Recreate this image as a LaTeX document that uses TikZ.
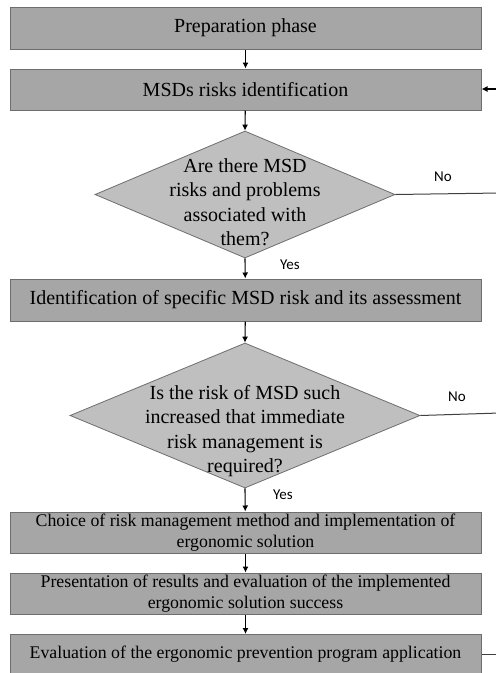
\documentclass[tikz,border=0pt]{standalone}
\usepackage{fontspec}
\setmainfont{Liberation Serif}
\newfontfamily\labelfont{Carlito}
\usetikzlibrary{shapes.geometric,arrows.meta}

\definecolor{boxfill}{HTML}{A6A6A6}
\definecolor{decfill}{HTML}{BFBFBF}
\definecolor{edgegray}{HTML}{6E6E6E}

\begin{document}
\begin{tikzpicture}[x=1pt,y=-1pt,
  stepbox/.style={draw=edgegray, fill=boxfill, line width=1pt,
    minimum width=471pt, minimum height=42pt, inner sep=0pt,
    align=center, font=\fontsize{20}{25}\selectfont},
  smallbox/.style={stepbox, font=\fontsize{17.8}{21.5}\selectfont},
  decision/.style={diamond, draw=edgegray, fill=decfill, line width=0.8pt,
    inner sep=0pt},
  dectext/.style={align=center, inner sep=0pt, font=\fontsize{20}{24.5}\selectfont},
  answer/.style={inner sep=0pt, font=\labelfont\fontsize{15}{18}\selectfont},
  flow/.style={draw=black, line width=1.1pt, -{Latex[length=6pt,width=6pt]}},
  exit/.style={draw=black!75, line width=1pt}
]
\useasboundingbox (0,0) rectangle (496,673);
\fill[white] (0,0) rectangle (496,673);

% main column of steps and decisions
\node[stepbox] (prep) at (245.5,28) {Preparation phase};
\node[stepbox, minimum height=41pt] (ident) at (245.5,89.5) {MSDs risks identification};
\node[decision, minimum width=300pt, minimum height=127pt] (q1) at (245,194.5) {};
\node[dectext] (q1t) at (245,202) {Are there MSD\\risks and problems\\associated with\\them?};
\node[stepbox] (assess) at (245.5,300) {Identification of specific MSD risk and its assessment};
\node[decision, minimum width=350pt, minimum height=145pt] (q2) at (245,415.5) {};
\node[dectext] (q2t) at (245,431) {Is the risk of MSD such\\increased that immediate\\risk management is\\required?};
\node[smallbox, minimum height=41pt] (choice) at (245.5,532.5) {Choice of risk management method and implementation of\\ergonomic solution};
\node[smallbox, minimum height=41pt] (present) at (245.5,593.5) {Presentation of results and evaluation of the implemented\\ergonomic solution success};
\node[smallbox, minimum height=44pt, anchor=north] (evalbox) at (245.5,634) {};
\node[inner sep=0pt, font=\fontsize{17.8}{21.5}\selectfont] (evaltext) at (245.5,654) {Evaluation of the ergonomic prevention program application};

% answers
\node[answer] (yes1) at (290,265) {Yes};
\node[answer] (no1) at (443,177) {No};
\node[answer] (yes2) at (283,495) {Yes};
\node[answer] (no2) at (457,397) {No};

% downward flow
\draw[flow] (prep) -- (ident);
\draw[flow] (ident) -- (q1.north);
\draw[flow] (q1.south) -- (assess);
\draw[flow] (assess) -- (q2.north);
\draw[flow] (q2.south) -- (choice);
\draw[flow] (choice) -- (present);
\draw[flow] (present) -- (evalbox.north);

% return paths leaving to the right
\coordinate (back) at (500,89);
\coordinate (no1end) at (500,193);
\coordinate (no2end) at (500,413);
\coordinate (evalend) at (500,654);
\draw[flow] (back) -- (ident.east |- back);
\draw[exit] (q1.east) -- (no1end);
\draw[exit] (q2.east) -- (no2end);
\draw[exit] (evalbox.east |- evalend) -- (evalend);
\end{tikzpicture}
\end{document}
